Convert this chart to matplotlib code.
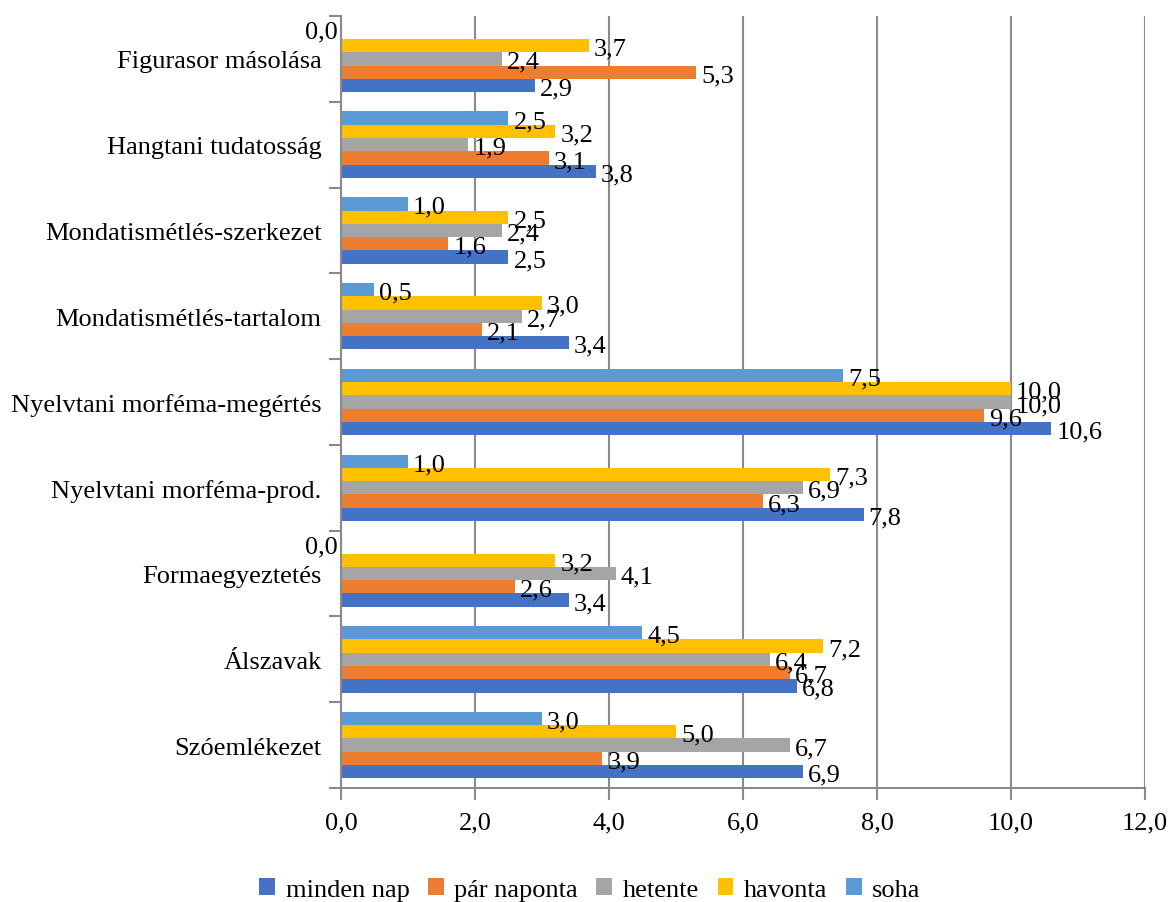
import matplotlib
matplotlib.use("Agg")
import matplotlib.pyplot as plt
import numpy as np
from matplotlib.patches import Patch

# categories listed top to bottom as in the chart
categories = [
    "Figurasor másolása",
    "Hangtani tudatosság",
    "Mondatismétlés-szerkezet",
    "Mondatismétlés-tartalom",
    "Nyelvtani morféma-megértés",
    "Nyelvtani morféma-prod.",
    "Formaegyeztetés",
    "Álszavak",
    "Szóemlékezet",
]
series_names = ["minden nap", "pár naponta", "hetente", "havonta", "soha"]
minden_nap = [2.9, 3.8, 2.5, 3.4, 10.6, 7.8, 3.4, 6.8, 6.9]
par_naponta = [5.3, 3.1, 1.6, 2.1, 9.6, 6.3, 2.6, 6.7, 3.9]
hetente = [2.4, 1.9, 2.4, 2.7, 10.0, 6.9, 4.1, 6.4, 6.7]
havonta = [3.7, 3.2, 2.5, 3.0, 10.0, 7.3, 3.2, 7.2, 5.0]
soha = [0.0, 2.5, 1.0, 0.5, 7.5, 1.0, 0.0, 4.5, 3.0]
x_ticks = [0, 2, 4, 6, 8, 10, 12]

colors = ["#4472C4", "#ED7D31", "#A5A5A5", "#FFC000", "#5B9BD5"]
all_series = [minden_nap, par_naponta, hetente, havonta, soha]

plt.rcParams['font.family'] = ['Liberation Serif', 'DejaVu Serif']
fs = 19

fig = plt.figure(figsize=(11.68, 9.03), dpi=100)
ax = fig.add_axes([341/1168, 1 - 789/903, (1145-341)/1168, (789-17)/903])

n = len(categories)
ypos = np.arange(n)[::-1]  # first category at top
h = 0.155
grid_c = "#8A8A8A"

for j, (vals, c) in enumerate(zip(all_series, colors)):
    y = ypos + (j - 2) * h
    ax.barh(y, vals, height=h, color=c, zorder=3)
    for yy, v in zip(y, vals):
        lab = f"{v:.1f}".replace('.', ',')
        if v == 0:
            ax.annotate(lab, (0, yy), xytext=(-3, 1), textcoords='offset pixels',
                        ha='right', va='center', fontsize=fs, zorder=4)
        else:
            ax.annotate(lab, (v, yy), xytext=(5, -3), textcoords='offset pixels',
                        ha='left', va='center', fontsize=fs, zorder=4)

ax.set_xlim(0, 12)
ax.set_ylim(-0.5, n - 0.5)
ax.set_xticks(x_ticks)
ax.set_xticklabels([f"{t:.1f}".replace('.', ',') for t in x_ticks], fontsize=fs)
ax.set_yticks(ypos)
ax.set_yticklabels(categories, fontsize=fs)
ax.set_yticks(np.arange(-0.5, n, 1.0), minor=True)
ax.tick_params(axis='y', which='major', length=0, pad=14)
ax.tick_params(axis='y', which='minor', length=8.6, width=1.5, color=grid_c, direction='out')
ax.tick_params(axis='x', which='major', length=8.6, width=1.5, color=grid_c, pad=8)

ax.xaxis.grid(True, color=grid_c, linewidth=1.5, zorder=0)
ax.set_axisbelow(True)
for s in ['top', 'right']:
    ax.spines[s].set_visible(False)
for s in ['left', 'bottom']:
    ax.spines[s].set_color(grid_c)
    ax.spines[s].set_linewidth(1.5)
    ax.spines[s].set_zorder(5)

handles = [Patch(facecolor=c, label=nm) for c, nm in zip(colors, series_names)]
fig.legend(handles=handles, loc='center', bbox_to_anchor=(0.505, 0.014), ncol=5,
           frameon=False, fontsize=fs, handlelength=0.6, handleheight=0.6,
           handletextpad=0.4, columnspacing=0.7, borderaxespad=0)

fig.savefig("out.png", dpi=100)
